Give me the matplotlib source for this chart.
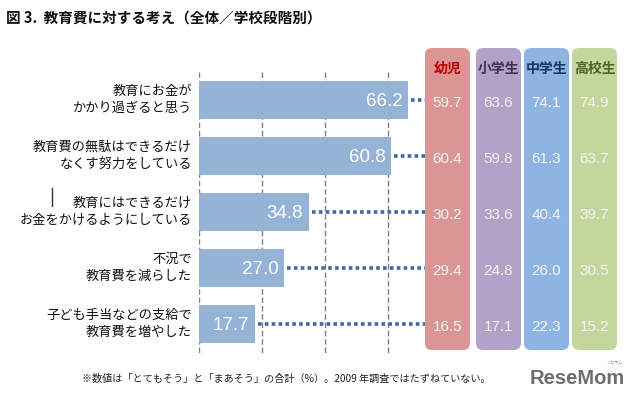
# -*- coding: utf-8 -*-
"""教育費に対する考え（全体／学校段階別）: 全体の横棒 + 学校段階別の値パネル"""
import matplotlib
matplotlib.use("Agg")
import matplotlib.pyplot as plt
from matplotlib.patches import FancyBboxPatch
from matplotlib.transforms import blended_transform_factory

plt.rcParams["font.family"] = ["Noto Sans CJK JP", "DejaVu Sans"]

categories = [
    "教育にお金が\nかかり過ぎると思う",
    "教育費の無駄はできるだけ\nなくす努力をしている",
    "教育にはできるだけ\nお金をかけるようにしている",
    "不況で\n教育費を減らした",
    "子ども手当などの支給で\n教育費を増やした",
]
total = [66.2, 60.8, 34.8, 27.0, 17.7]
groups = ["幼児", "小学生", "中学生", "高校生"]
group_values = {
    "幼児": [59.7, 60.4, 30.2, 29.4, 16.5],
    "小学生": [63.6, 59.8, 33.6, 24.8, 17.1],
    "中学生": [74.1, 61.3, 40.4, 26.0, 22.3],
    "高校生": [74.9, 63.7, 39.7, 30.5, 15.2],
}
grid_ticks = [0, 20, 40, 60]

BAR = "#95B3D7"
DOT = "#3F68A6"
PANEL = {"幼児": "#DA9694", "小学生": "#B3A2C7", "中学生": "#8DB4E2", "高校生": "#C3D69B"}
HEAD = {"幼児": "#C00000", "小学生": "#403152", "中学生": "#17375E", "高校生": "#4F6228"}
PANEL_X = {"幼児": 425, "小学生": 476, "中学生": 524, "高校生": 572}  # px
PANEL_W = 45
NUM_FONT = ["Liberation Sans", "DejaVu Sans"]

W, H = 640, 396
fig = plt.figure(figsize=(W / 100, H / 100), dpi=100)
fig.patch.set_facecolor("white")

# 装飾用（ピクセル座標）
deco = fig.add_axes([0, 0, 1, 1], zorder=0)
deco.set_xlim(0, W)
deco.set_ylim(H, 0)
deco.axis("off")

# 棒グラフ本体
x0, px_per = 199, 3.157
top_px, bot_px, row0, row_h = 40, 355, 100, 56
ax = fig.add_axes([x0 / W, (H - bot_px) / H, (W - x0) / W, (bot_px - top_px) / H], zorder=1)
ax.patch.set_alpha(0)
ax.set_xlim(0, (W - x0) / px_per)
ax.set_ylim((bot_px - row0) / row_h, (top_px - row0) / row_h)
ax.axis("off")

def px2x(px):
    return (px - x0) / px_per

grid_top = (72 - row0) / row_h
ax.vlines(grid_ticks, grid_top, (bot_px - row0) / row_h, colors="#808080",
          linestyles=(0, (4, 2)), linewidth=1.0, zorder=1)

y = list(range(len(categories)))
ax.barh(y, total, height=0.68, color=BAR, zorder=2)
for i, v in enumerate(total):
    ax.text(v - 1.8, i + 0.02, f"{v:.1f}", ha="right", va="center", color="white",
            fontsize=13.5, family=NUM_FONT, zorder=3)
    ax.plot([v + 1.0, px2x(425)], [i, i], color=DOT, linewidth=2.6,
            linestyle=(0, (1, 0.9)), solid_capstyle="butt", zorder=2)
    ax.text(px2x(192), i, categories[i], ha="right", va="center", fontsize=9.5,
            linespacing=1.45, color="#111111")

# 学校段階別パネル
mix = blended_transform_factory(deco.transData, ax.transData)
for g in groups:
    xl = PANEL_X[g]
    deco.add_patch(FancyBboxPatch((xl + 4, 52), PANEL_W - 8, 294,
                                  boxstyle="round,pad=4,rounding_size=7",
                                  facecolor=PANEL[g], edgecolor="none"))
    deco.text(xl + PANEL_W / 2, 69, g, ha="center", va="center", fontsize=10,
              fontweight="bold", color=HEAD[g])
    for i, v in enumerate(group_values[g]):
        ax.text(xl + PANEL_W / 2, i + 0.05, f"{v:.1f}", transform=mix, ha="center",
                va="center", fontsize=11, color="#F4F4F4", family=NUM_FONT)

deco.text(6, 18, "図 3.  教育費に対する考え（全体／学校段階別）", ha="left", va="center",
          fontsize=10.5, fontweight="bold", color="#111111")
deco.plot([52, 52], [188, 206], color="#333333", linewidth=1.0)
deco.text(82, 379, "※数値は「とてもそう」と「まあそう」の合計（%）。2009 年調査ではたずねていない。",
          ha="left", va="center", fontsize=7.3, color="#222222")
deco.text(530, 379, "ReseMom", ha="left", va="center", fontsize=14.5, fontweight="bold",
          color="#6E6E6E", family=NUM_FONT)
deco.text(614, 363, "リセマム", ha="center", va="center", fontsize=3, color="#808080")

fig.savefig("out.png", dpi=100, facecolor="white")
